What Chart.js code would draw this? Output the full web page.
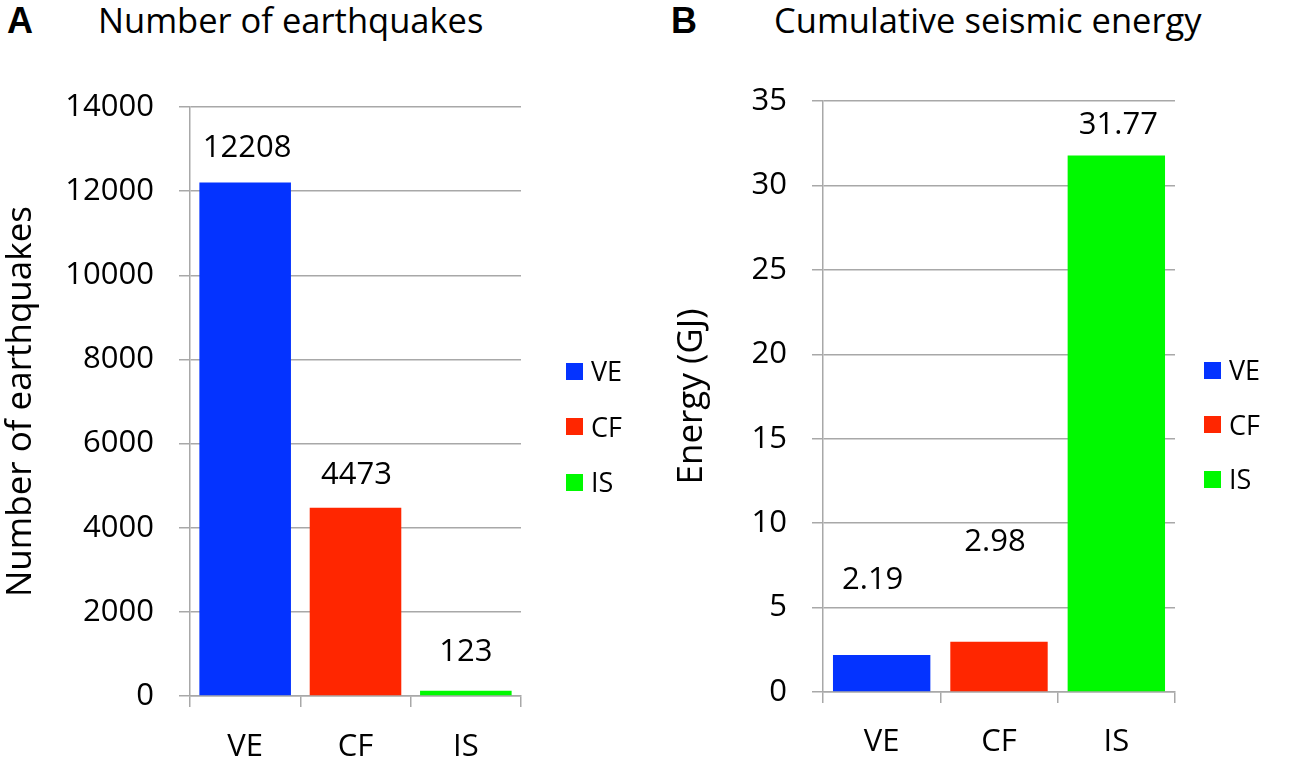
<!DOCTYPE html>
<html>
<head>
<meta charset="utf-8">
<script src="https://cdn.jsdelivr.net/npm/chart.js@4.4.1/dist/chart.umd.min.js"></script>
<style>
  html, body { margin: 0; padding: 0; background: #fff; }
  body { width: 1301px; height: 760px; position: relative; overflow: hidden; font-family: "Open Sans", sans-serif; color: #000; }
  canvas { position: absolute; top: 0; }
  #chartA { left: 0; }
  #chartB { left: 650px; }
  .letter { position: absolute; top: 1px; font-family: "Liberation Sans", Arial, sans-serif; font-weight: bold; font-size: 36px; line-height: 40px; }
  .title { position: absolute; top: 1px; font-size: 34.5px; line-height: 38px; white-space: nowrap; }
  .legItem { position: absolute; display: flex; align-items: center; height: 34px; font-size: 27px; line-height: 34px; white-space: nowrap; }
  .legItem .sw { width: 17px; height: 17px; margin-right: 8px; }
</style>
</head>
<body>
<div class="letter" style="left:7px;">A</div>
<div class="title" id="titleA" style="left:98px;">Number of earthquakes</div>
<div class="letter" style="left:671px;">B</div>
<div class="title" id="titleB" style="left:774px;">Cumulative seismic energy</div>
<canvas id="chartA" width="650" height="760"></canvas>
<canvas id="chartB" width="651" height="760"></canvas>
<div id="legendA"></div>
<div id="legendB"></div>
<script>
// ---- data ----
const categories = ["VE", "CF", "IS"];
const earthquakeCounts = [12208, 4473, 123];
const seismicEnergyGJ = [2.19, 2.98, 31.77];
const countTicks = [0, 2000, 4000, 6000, 8000, 10000, 12000, 14000];
const energyTicks = [0, 5, 10, 15, 20, 25, 30, 35];
const barColors = ["#0433FF", "#FF2600", "#00F900"];

// ---- styling ----
const FONT = "'Open Sans', sans-serif";
const GRID = "#A8A8A8";
Chart.defaults.font.family = FONT;
Chart.defaults.color = "#000";

const valueLabels = {
  id: "valueLabels",
  afterDatasetsDraw(chart, args, opts) {
    const ctx = chart.ctx;
    const meta = chart.getDatasetMeta(0);
    const data = chart.data.datasets[0].data;
    ctx.save();
    ctx.font = opts.size + "px " + FONT;
    ctx.fillStyle = "#000";
    ctx.textAlign = "center";
    ctx.textBaseline = "middle";
    meta.data.forEach((bar, i) => {
      const dx = (opts.dx && opts.dx[i]) || 0;
      ctx.fillText(opts.format(data[i]), bar.x + dx, bar.y - opts.offsets[i]);
    });
    ctx.restore();
  }
};

function makeChart(id, cfg) {
  return new Chart(document.getElementById(id), {
    type: "bar",
    data: {
      labels: categories,
      datasets: [{
        data: cfg.values,
        backgroundColor: barColors,
        borderWidth: 0,
        categoryPercentage: 1.0,
        barPercentage: 0.83
      }]
    },
    options: {
      responsive: false,
      animation: false,
      events: [],
      layout: { padding: { left: 0, top: cfg.top, right: cfg.right, bottom: 0 } },
      plugins: {
        legend: { display: false },
        tooltip: { enabled: false },
        valueLabels: { size: 31, offsets: cfg.labelOffsets, dx: cfg.labelDx, format: cfg.format }
      },
      scales: {
        x: {
          grid: { display: true, drawOnChartArea: false, drawTicks: true, tickLength: 11, color: GRID, lineWidth: 1.5, offset: true },
          border: { display: true, color: GRID, width: 1.5 },
          ticks: { font: { size: 31 }, padding: cfg.xPad, color: "#000" },
          afterFit: s => { s.height = cfg.xHeight; }
        },
        y: {
          min: 0,
          max: cfg.ticks[cfg.ticks.length - 1],
          afterBuildTicks: s => { s.ticks = cfg.ticks.map(v => ({ value: v })); },
          grid: { color: GRID, lineWidth: 1.5, drawTicks: true, tickLength: 11 },
          border: { display: true, color: GRID, width: 1.5 },
          ticks: { font: { size: 31 }, padding: 25, color: "#000", callback: v => String(v) },
          title: { display: true, text: cfg.yTitle, font: { size: 35 }, color: "#000", padding: { top: cfg.titlePad, bottom: 0 } },
          afterFit: s => { s.width = cfg.yWidth; }
        }
      }
    },
    plugins: [valueLabels]
  });
}

makeChart("chartA", {
  values: earthquakeCounts,
  ticks: countTicks,
  yTitle: "Number of earthquakes",
  top: 107, right: 129, xHeight: 64, xPad: 22, yWidth: 190, titlePad: 0,
  labelOffsets: [34, 33, 39],
  labelDx: [2, 1, 0],
  format: v => String(v)
});

makeChart("chartB", {
  values: seismicEnergyGJ,
  ticks: energyTicks,
  yTitle: "Energy (GJ)",
  top: 101, right: 126, xHeight: 68, xPad: 21, yWidth: 173, titlePad: 21,
  labelOffsets: [75, 100, 30],
  labelDx: [-9, -4, 2],
  format: v => v.toFixed(2)
});

// ---- legends built from the category/colour arrays ----
function buildLegend(containerId, left, firstCenterY, spacing) {
  const c = document.getElementById(containerId);
  categories.forEach((cat, i) => {
    const item = document.createElement("div");
    item.className = "legItem";
    item.style.left = left + "px";
    item.style.top = (firstCenterY + i * spacing - 17) + "px";
    const sw = document.createElement("span");
    sw.className = "sw";
    sw.style.background = barColors[i];
    const tx = document.createElement("span");
    tx.textContent = cat;
    item.appendChild(sw);
    item.appendChild(tx);
    c.appendChild(item);
  });
}
buildLegend("legendA", 566, 371, 55.5);
buildLegend("legendB", 1204, 370, 54.5);
</script>
</body>
</html>
